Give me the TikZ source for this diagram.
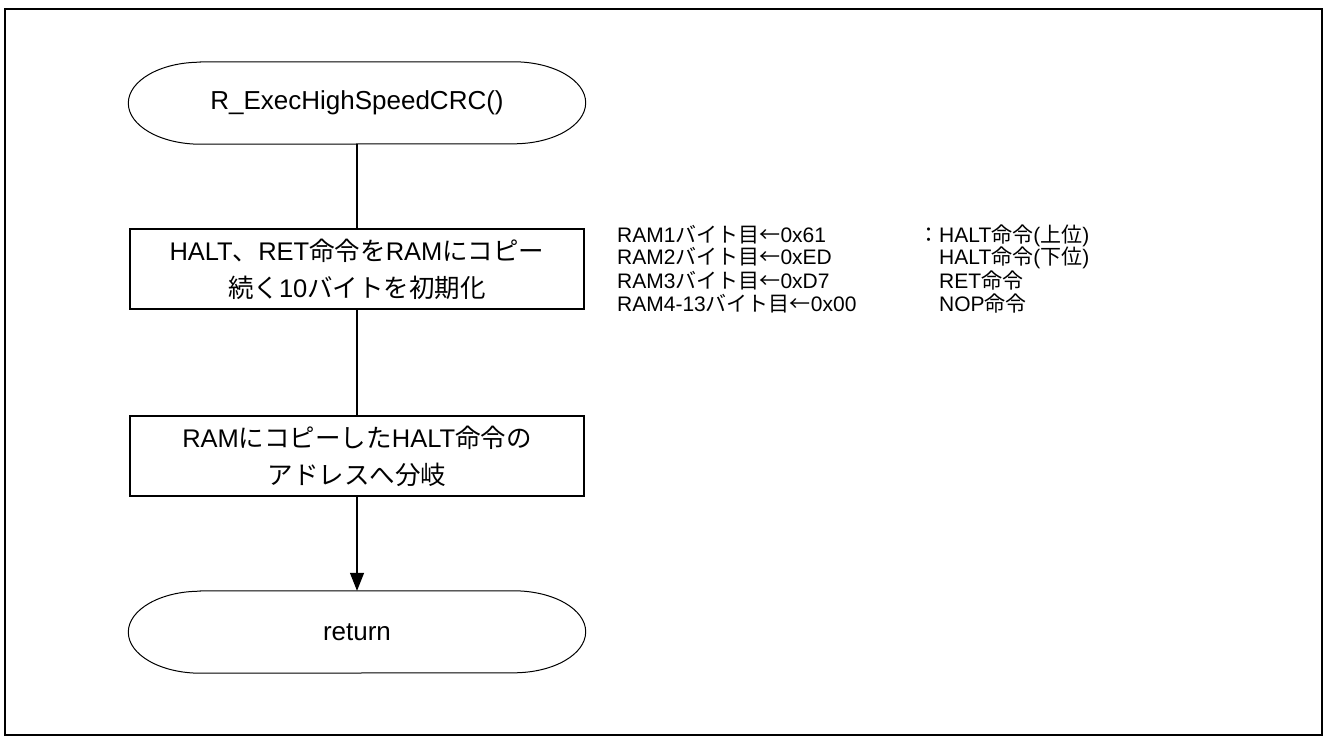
\documentclass[tikz,border=0pt]{standalone}
\usepackage{fontspec}
\setmainfont{Liberation Sans}
\newfontfamily\jpfont{Noto Sans CJK JP}
\newcommand{\jp}[1]{{\jpfont #1}}
\usetikzlibrary{arrows.meta}

\tikzset{
  procbox/.style={draw, line width=1.5pt, minimum width=454pt, minimum height=80pt,
    inner sep=0pt, align=center, font=\fontsize{25.5}{37}\selectfont},
  termtext/.style={minimum width=457pt, minimum height=82pt, inner sep=0pt,
    font=\fontsize{26}{30}\selectfont},
  note/.style={anchor=base west, inner sep=0pt, font=\fontsize{21}{21}\selectfont},
  flow/.style={line width=1.3pt}
}
% terminal outline with half-ellipse ends
\newcommand{\termpath}[1]{%
  \draw[line width=1pt] ([xshift=72pt]#1.north west) -- ([xshift=-72pt]#1.north east)
    arc[start angle=90, end angle=-90, x radius=72pt, y radius=41pt]
    -- ([xshift=72pt]#1.south west)
    arc[start angle=270, end angle=90, x radius=72pt, y radius=41pt] -- cycle;}

\begin{document}
\begin{tikzpicture}[x=1pt, y=-1pt]
  \useasboundingbox (0,0) rectangle (1325,738);
  \draw[line width=2.5pt] (5,9) rectangle (1322,735);

  \node[termtext] (start) at (357,103) {R\_ExecHighSpeedCRC()};
  \termpath{start}
  \node[procbox] (copy) at (357,269) {HALT\jp{、}RET\jp{命令を}RAM\jp{にコピー}\\\jp{続く}10\jp{バイトを初期化}};
  \node[procbox] (jump) at (357,456) {RAM\jp{にコピーした}HALT\jp{命令の}\\\jp{アドレスへ分岐}};
  \node[termtext] (ret) at (357,632) {return};
  \termpath{ret}

  \draw[flow] (start.south) -- (copy.north);
  \draw[flow] (copy.south) -- (jump.north);
  \draw[flow, -{Triangle[length=18pt,width=14pt]}] (jump.south) -- (ret.north);

  % RAM contents
  \node[note] (ramA) at (617,242) {RAM1\jp{バイト目←}0x61};
  \node[note] (ramB) at (617,265) {RAM2\jp{バイト目←}0xED};
  \node[note] (ramC) at (617,288) {RAM3\jp{バイト目←}0xD7};
  \node[note] (ramD) at (617,311) {RAM4-13\jp{バイト目←}0x00};
  \node[note] (cmdA) at (918,242) {\jp{：}HALT\jp{命令}(\jp{上位})};
  \node[note] (cmdB) at (918,265) {\jp{　}HALT\jp{命令}(\jp{下位})};
  \node[note] (cmdC) at (918,288) {\jp{　}RET\jp{命令}};
  \node[note] (cmdD) at (918,311) {\jp{　}NOP\jp{命令}};
\end{tikzpicture}
\end{document}
